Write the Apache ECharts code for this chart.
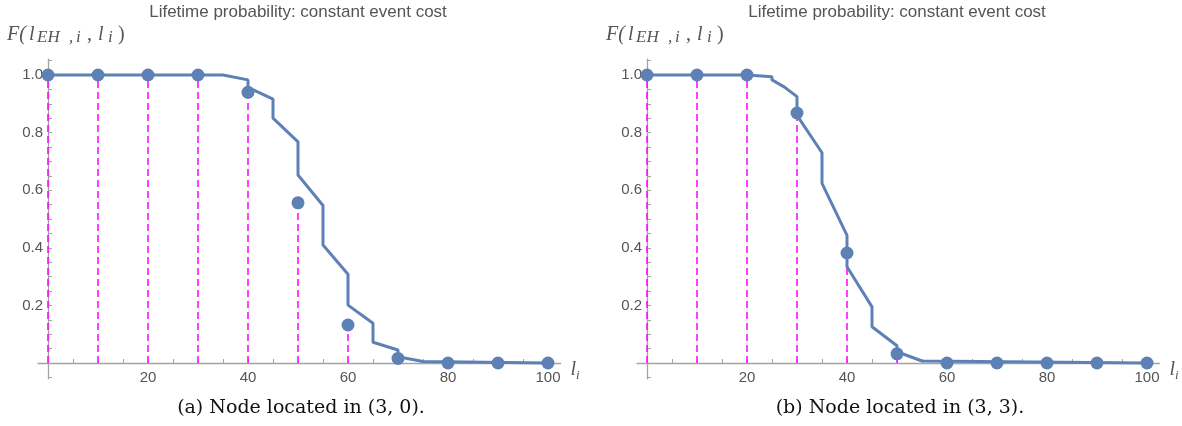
<!DOCTYPE html>
<html>
<head>
<meta charset="utf-8">
<script src="https://cdn.jsdelivr.net/npm/echarts@6/dist/echarts.min.js"></script>
<style>
  html, body { margin: 0; padding: 0; background: #fff; }
  #chart { width: 1182px; height: 426px; }
</style>
</head>
<body>
<div id="chart"></div>
<script>
// sampled lifetimes and the probabilities shown as dots
const sampleX = [0, 10, 20, 30, 40, 50, 60, 70, 80, 90, 100]
const pointsA = [1, 1, 1, 1, 0.94, 0.556, 0.132, 0.016, 0, 0, 0]
const pointsB = [1, 1, 1, 0.868, 0.382, 0.032, 0, 0, 0, 0, 0]

// the stepped curve (x, F)
const curveA = [
  [0, 1], [35, 1], [35, 0.997], [40, 0.983], [40, 0.957], [45, 0.916], [45, 0.85],
  [50, 0.768], [50, 0.653], [55, 0.547], [55, 0.41], [60, 0.308], [60, 0.201],
  [65, 0.138], [65, 0.072], [70, 0.045], [70, 0.022], [75, 0.005], [75, 0.001], [100, 0]
]
const curveB = [
  [0, 1], [20, 1], [25, 0.994], [25, 0.983], [27.5, 0.958], [30, 0.925], [30, 0.86],
  [35, 0.73], [35, 0.624], [40, 0.443], [40, 0.334], [45, 0.195], [45, 0.126],
  [50, 0.06], [50, 0.039], [55, 0.007], [55, 0.001], [100, 0]
]

const xTickValues = [0, 5, 10, 15, 20, 25, 30, 35, 40, 45, 50, 55, 60, 65, 70, 75, 80, 85, 90, 95, 100]
const xLabelValues = [20, 40, 60, 80, 100]
const yTickValues = [-0.05, 0, 0.05, 0.1, 0.15, 0.2, 0.25, 0.3, 0.35, 0.4, 0.45, 0.5,
  0.55, 0.6, 0.65, 0.7, 0.75, 0.8, 0.85, 0.9, 0.95, 1, 1.05]
const yLabelValues = [0.2, 0.4, 0.6, 0.8, 1.0]

const chartTitle = 'Lifetime probability: constant event cost'
const captions = ['(a) Node located in (3, 0).', '(b) Node located in (3, 3).']

const BLUE = '#5E81B5'
const AXIS = '#A3A3A3'
const LABEL = '#555'

const chart = echarts.init(document.getElementById('chart'))

const gridLefts = [38, 637]

function xAxisFor(i) {
  return {
    type: 'value',
    gridIndex: i,
    min: -2,
    max: 102.5,
    name: '{i|l}{s|i}',
    nameLocation: 'end',
    nameGap: 10,
    nameTextStyle: {
      padding: [14, 0, 0, 0],
      rich: {
        i: { fontFamily: 'Liberation Serif', fontStyle: 'italic', fontSize: 20, color: LABEL },
        s: { fontFamily: 'Liberation Serif', fontStyle: 'italic', fontSize: 13, color: LABEL, padding: [12, 0, 0, 0] }
      }
    },
    axisLine: { onZero: true, lineStyle: { color: AXIS, width: 1.3 } },
    axisTick: { inside: true, length: 4, lineStyle: { color: AXIS }, customValues: xTickValues },
    axisLabel: {
      customValues: xLabelValues,
      color: LABEL,
      fontFamily: 'Liberation Sans',
      fontSize: 15,
      margin: -8
    },
    splitLine: { show: false }
  }
}

function yAxisFor(i) {
  return {
    type: 'value',
    gridIndex: i,
    min: -0.055,
    max: 1.055,
    axisLine: { onZero: true, lineStyle: { color: AXIS, width: 1.3 } },
    axisTick: { inside: true, length: 4, lineStyle: { color: AXIS }, customValues: yTickValues },
    axisLabel: {
      customValues: yLabelValues,
      color: LABEL,
      fontFamily: 'Liberation Sans',
      fontSize: 15,
      margin: -5,
      formatter: (v) => v.toFixed(1)
    },
    splitLine: { show: false }
  }
}

function seriesFor(i, curve, points) {
  const pts = sampleX.map((x, k) => [x, points[k]])
  return [
    {
      type: 'custom',
      xAxisIndex: i,
      yAxisIndex: i,
      data: pts,
      z: 1,
      renderItem: (params, api) => {
        const p0 = api.coord([api.value(0), 0])
        const p1 = api.coord([api.value(0), api.value(1)])
        return {
          type: 'line',
          shape: { x1: p0[0], y1: p0[1], x2: p1[0], y2: p1[1] },
          style: { stroke: '#FF00FF', lineWidth: 1.5, lineDash: [7, 4] }
        }
      }
    },
    {
      type: 'line',
      xAxisIndex: i,
      yAxisIndex: i,
      data: curve,
      symbol: 'none',
      z: 2,
      lineStyle: { color: BLUE, width: 3 },
      animation: false
    },
    {
      type: 'scatter',
      xAxisIndex: i,
      yAxisIndex: i,
      data: pts,
      symbolSize: 13,
      z: 3,
      itemStyle: { color: BLUE, opacity: 1 }
    }
  ]
}

const serif = 'Liberation Serif'
const main = { fontFamily: serif, fontSize: 20, fill: LABEL }
const sub = { fontFamily: serif, fontStyle: 'italic', fontSize: 17, fill: LABEL, padding: [5, 0, 0, 0] }
const yLabelRich = {
  f: { ...main, fontStyle: 'italic', width: 22 },
  p: { ...main, width: 0 },
  l: { ...main, fontStyle: 'italic', width: 8 },
  e: { ...sub, width: 32 },
  k: { ...sub, width: 7 },
  s: { ...sub, width: 11 },
  c: { ...main, width: 11 },
  m: { ...main, fontStyle: 'italic', width: 10 },
  t: { ...sub, width: 10 },
  n: { ...main }
}

const texts = []
;[298, 897].forEach((cx, i) => {
  texts.push({
    type: 'text', x: cx, y: 12.5,
    style: { text: chartTitle, fill: LABEL, font: '17px "Liberation Sans"', align: 'center', verticalAlign: 'middle' }
  })
  texts.push({
    type: 'text', x: cx + 3, y: 408,
    style: { text: captions[i], fill: '#111', font: '19px "DejaVu Serif"', align: 'center', verticalAlign: 'middle' }
  })
  texts.push({
    type: 'text', x: gridLefts[i] - 31, y: 35,
    style: { text: '{f|F(}{l|l}{e|EH}{k|,}{s|i}{c|,}{m|l}{t|i}{n|)}', rich: yLabelRich, verticalAlign: 'middle' }
  })
})

chart.setOption({
  animation: false,
  grid: gridLefts.map((l) => ({ left: l, top: 59.16, width: 522.5, height: 319.68 })),
  xAxis: [xAxisFor(0), xAxisFor(1)],
  yAxis: [yAxisFor(0), yAxisFor(1)],
  series: [...seriesFor(0, curveA, pointsA), ...seriesFor(1, curveB, pointsB)],
  graphic: texts
})
</script>
</body>
</html>
